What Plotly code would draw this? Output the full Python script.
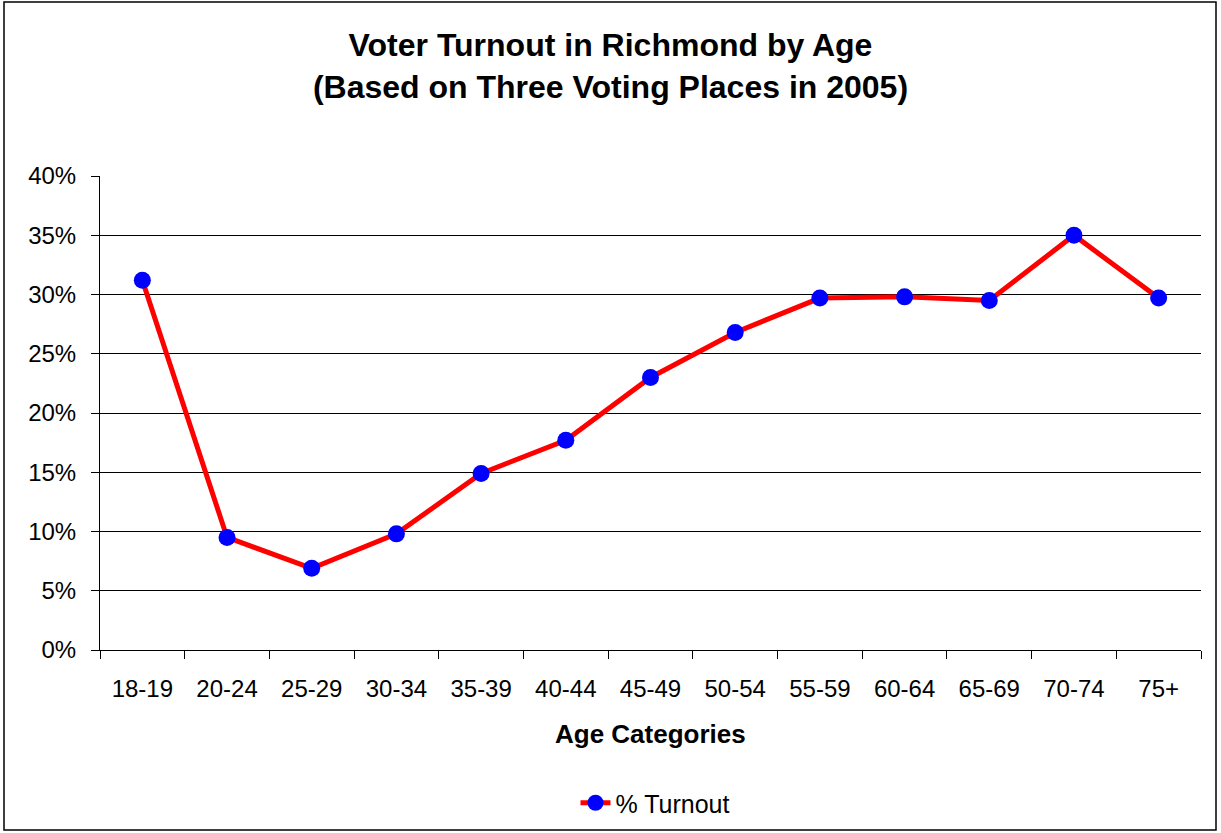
import plotly.graph_objects as go

categories = ["18-19", "20-24", "25-29", "30-34", "35-39", "40-44", "45-49",
              "50-54", "55-59", "60-64", "65-69", "70-74", "75+"]
turnout = [31.2, 9.5, 6.9, 9.8, 14.9, 17.7, 23.0, 26.8, 29.7, 29.8, 29.5, 35.0, 29.7]
turnout_frac = [v / 100 for v in turnout]
y_ticks = [0, 0.05, 0.10, 0.15, 0.20, 0.25, 0.30, 0.35, 0.40]
y_labels = ["0%", "5%", "10%", "15%", "20%", "25%", "30%", "35%", "40%"]

FONT = "Liberation Sans, Arial, sans-serif"
PW, PH = 1101, 474  # plot area size in px

fig = go.Figure()
fig.add_trace(go.Scatter(
    x=categories, y=turnout_frac, mode="lines+markers", name="% Turnout",
    line=dict(color="#FF0000", width=5),
    marker=dict(color="#0000FF", size=17, line=dict(width=0)),
))

fig.update_layout(
    width=1221, height=833,
    paper_bgcolor="white", plot_bgcolor="white",
    margin=dict(l=100, r=20, t=176, b=183, autoexpand=False),
    font=dict(family=FONT, color="black", size=24),
    title=dict(
        text="<b>Voter Turnout in Richmond by Age<br>(Based on Three Voting Places in 2005)</b>",
        x=0.5, xanchor="center", yref="container", y=1 - 56 / 833, yanchor="middle",
        font=dict(size=32, family=FONT, color="black"),
    ),
    showlegend=True,
    legend=dict(orientation="h", x=0.5 + 5 / PW, xanchor="center",
                y=-(803 - 650) / PH, yanchor="middle",
                font=dict(size=25, family=FONT), bgcolor="rgba(0,0,0,0)"),
    xaxis=dict(
        type="category", range=[-0.5, 12.5],
        showline=True, linecolor="black", linewidth=1,
        ticks="outside", tickson="boundaries", ticklen=8, tickcolor="black",
        showgrid=False,
        tickfont=dict(size=24, family=FONT),
        ticklabelstandoff=17,
    ),
    yaxis=dict(
        range=[0, 0.40], tickvals=y_ticks, ticktext=y_labels,
        showline=True, linecolor="black", linewidth=1,
        ticks="outside", ticklen=8, tickcolor="black",
        showgrid=True, gridcolor="black", gridwidth=1,
        zeroline=False,
        tickfont=dict(size=24, family=FONT),
        ticklabelstandoff=10,
    ),
    annotations=[dict(
        text="<b>Age Categories</b>", xref="paper", yref="paper",
        x=0.5, y=-(734 - 650) / PH, xanchor="center", yanchor="middle",
        showarrow=False, font=dict(size=26, family=FONT, color="black"),
    )],
    shapes=[dict(type="rect", xref="paper", yref="paper",
                 x0=-96 / PW, x1=1116 / PW, y0=-180 / PH, y1=(176 - 2) / PH + 1,
                 line=dict(color="black", width=1.5), fillcolor="rgba(0,0,0,0)",
                 layer="below")],
)

fig.write_html("out.html")
